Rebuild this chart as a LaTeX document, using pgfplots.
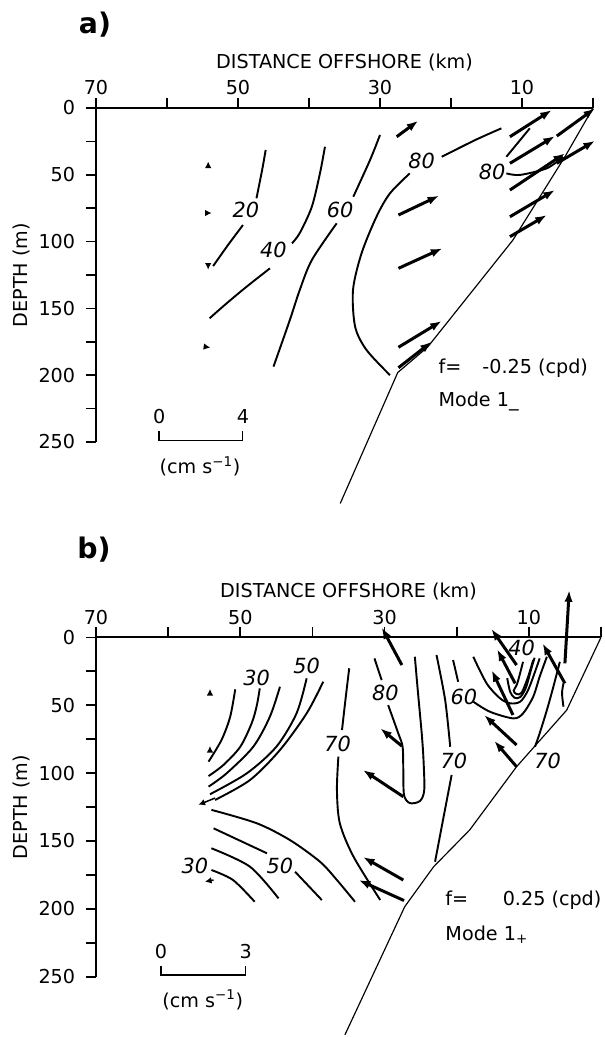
\documentclass[border=0pt]{standalone}
\usepackage{pgfplots}
\pgfplotsset{compat=1.18}
\usepackage{fontspec}
\setmainfont{DejaVu Sans}
\usetikzlibrary{arrows.meta}

\pgfplotsset{
  sect/.style={
    scale only axis, xmin=0,xmax=70,ymin=0,ymax=250,
    x dir=reverse, y dir=reverse,
    axis x line*=top, axis y line*=left,
    axis line style={-, line width=1.2pt},
    tick align=outside, major tick length=6pt,
    tick style={black, line width=1pt},
    xtick={0,10,...,70}, xticklabels={,10,,30,,50,,70},
    ytick={0,25,...,250}, yticklabels={0,,50,,100,,150,,200,,250},
    xlabel={DISTANCE OFFSHORE (km)}, ylabel={DEPTH (m)},
    tick label style={font=\fontsize{11.5}{13}\selectfont},
    yticklabel style={xshift=-3pt},
    xticklabel style={yshift=-1.8pt},
    ylabel shift=-2pt,
    xlabel shift=-1.2pt,
    label style={font=\fontsize{11.5}{13}\selectfont},
    clip=false,
  },
  cont/.style={black, line width=1.15pt, smooth, no markers},
  vec/.style={black, line width=1.8pt, -{Latex[length=7pt,width=5pt]}, no markers, quiver={u=\thisrow{u},v=\thisrow{v}}},
  svec/.style={black, line width=0.9pt, -{Latex[length=4pt,width=4pt]}, no markers, quiver={u=\thisrow{u},v=\thisrow{v}}},
}
\tikzset{
  clab/.style={font=\fontsize{12.5}{14}\selectfont\itshape, inner sep=0pt},
  txt/.style={font=\fontsize{11.5}{13}\selectfont, inner sep=0pt},
}

\begin{document}
\begin{tikzpicture}[font=\fontsize{11.5}{13}\selectfont]
\useasboundingbox (0,0) rectangle (363pt,-622.2pt);
\node[font=\fontsize{17}{19}\selectfont\bfseries] at (57pt,-15pt) {a)};
\begin{axis}[sect, at={(57.6pt,-64.8pt)}, anchor=north west, width=298.2pt, height=200.4pt]
% bottom slope
\addplot[black, line width=0.7pt] coordinates {(0,0) (3.9,36) (11.3,99) (23.3,179) (27.5,198) (35.6,296)};
% contours
\addplot[cont] coordinates {(46.1,31.4) (46.6,46.4) (47.4,67.6)};
\addplot[cont] coordinates {(49.3,87.6) (51.4,102.5) (53.5,118.3)};
\addplot[cont] coordinates {(37.75,29) (38.45,48.7) (39.6,73.9) (41.3,93.6) (42.4,101.3)};
\addplot[cont] coordinates {(45.5,120) (48.8,133.8) (51.6,146.2) (54.0,157.4)};
\addplot[cont] coordinates {(30,20.2) (31.4,38.9) (33.76,66.4)};
\addplot[cont] coordinates {(36.1,86.3) (39.6,113.8) (41.3,136.2) (42.7,158.7) (45.0,193.6)};
\addplot[cont] coordinates {(12.9,15.2) (16.6,24) (21.3,36.5)};
\addplot[cont] coordinates {(25.8,48.9) (28.6,63.9) (30.5,81.4) (32.6,108.8) (33.8,136.2) (33.5,163.7) (31.9,181.1) (28.6,199.9)};
\addplot[cont] coordinates {(12.2,48.9) (10.3,50.1) (6.5,45.1) (4.2,36.5)};
\addplot[cont] coordinates {(12.2,36.5) (8.9,15.2)};
\node[clab] at (axis cs:48.9,76.0) {20};
\node[clab] at (axis cs:45.0,105.9) {40};
\node[clab] at (axis cs:35.6,76.3) {60};
\node[clab] at (axis cs:24.15,39.7) {80};
\node[clab] at (axis cs:14.2,47.5) {80};
% velocity vectors
\addplot[vec] table[row sep=\\] {
x y u v \\
27.65 21.5 -3.05 -12.0 \\
11.7 21.5 -5.9 -20.0 \\
11.7 41.4 -6.35 -20.4 \\
5.1 21.0 -5.4 -20.8 \\
11.7 61.4 -7.76 -27.5 \\
5.1 41.4 -5.4 -16.9 \\
11.7 81.4 -6.35 -20.0 \\
11.7 96.3 -5.2 -16.2 \\
27.4 80.1 -5.75 -14.5 \\
27.4 120 -6.2 -15 \\
27.4 179.1 -6.1 -19.7 \\
27.4 194.4 -4.7 -19.5 \\
};
\addplot[svec] table[row sep=\\] {
x y u v \\
54.2 43 0 -3 \\
54.6 78.6 -0.9 0 \\
54.2 118 0 3 \\
54.8 178.6 -0.9 0.7 \\
};
% scale bar
\addplot[black, line width=0.9pt] coordinates {(61.1,242) (61.1,249) (49.4,249) (49.4,242)};
\node[txt] at (axis cs:61.1,231) {0};
\node[txt] at (axis cs:49.3,231) {4};
\node[txt] at (axis cs:55.35,268.5) {(cm s\textsuperscript{−1})};
\node[txt, anchor=west] at (axis cs:21.8,194.6) {f=\hspace{1.1em}-0.25 (cpd)};
\node[txt, anchor=west] at (axis cs:21.8,220) {Mode 1\_};
\end{axis}

\node[font=\fontsize{17}{19}\selectfont\bfseries] at (56.4pt,-330pt) {b)};
\begin{axis}[sect, at={(57.6pt,-382.4pt)}, anchor=north west, width=303pt, height=203.6pt]
\addplot[black, line width=0.7pt] coordinates {(0,0) (4.75,53.6) (11.7,95.3) (18.2,141.9) (23.2,169) (27.2,198.4) (35.5,292.9)};
% upper-left family
\addplot[cont] coordinates {(50.7,38.3) (51.4,58.5) (52.6,75.6) (54.4,91.6)};
\addplot[cont] coordinates {(47.3,37.6) (47.7,50) (48.4,63) (50.0,80.6) (52.35,94.1) (54.4,102.2)};
\addplot[cont] coordinates {(44.5,36.4) (45.9,58.5) (48.2,80.6) (51.9,100.2) (54.4,110.0)};
\addplot[cont] coordinates {(40.8,30.2) (42.2,56.0) (45.0,80.6) (49.1,100.2) (54.2,115.6)};
\addplot[cont] coordinates {(38.5,32.7) (40.8,56.0) (44.5,83.0) (48.65,105.1) (53.5,119.8)};
% lower-left family
\addplot[cont] coordinates {(54.0,127.1) (47.7,137.0) (43.1,149.4) (38.95,165.3) (36.6,178.8) (34.1,194.8)};
\addplot[cont] coordinates {(53.7,140.7) (46.3,159.1)};
\addplot[cont] coordinates {(42.4,172.7) (38.7,193.5)};
\addplot[cont] coordinates {(54.0,155.4) (48.65,169.0) (44.7,192.3)};
\addplot[cont] coordinates {(54.0,171.4) (51.0,178.8) (48.0,194.8)};
% 70 left
\addplot[cont] coordinates {(34.9,22.8) (35.4,45) (35.9,68.3)};
\addplot[cont] coordinates {(36.4,87.9) (36.6,112.5) (36.2,137.0) (34.3,161.6) (30.6,193.5)};
% 80 loop
\addplot[cont] coordinates {(31.4,15.5) (30.4,31.5)};
\addplot[cont] coordinates {(29.5,49.9) (28.1,70.7) (27.5,80.6) (27.4,97.7) (27.3,116.2) (26.5,122.1) (25.1,120.6) (24.5,112.5) (24.6,90.4) (24.85,70.7) (25.4,38.8) (25.8,14.3)};
% 70 middle
\addplot[cont] coordinates {(22.8,13.0) (21.6,46.2) (20.9,80.6)};
\addplot[cont] coordinates {(20.7,101.4) (21.9,134.6) (23.0,165.3)};
% 60
\addplot[cont] coordinates {(20.5,16.7) (19.8,32.7)};
\addplot[cont] coordinates {(17.7,47.4) (15.4,54.8) (12.15,59.7) (10.8,56.0) (9.4,43.8) (8.5,29.0) (7.5,14.3)};
% inner U's
\addplot[cont] coordinates {(17.7,14.3) (15.85,33.9) (14.0,44.9) (12.6,48.6) (11.2,47.4) (10.1,38.8) (8.9,21.7) (8.5,15.5)};
\addplot[cont] coordinates {(13.0,30) (12.6,40) (12.0,44.5) (11.2,44) (10.4,37) (9.6,22) (9.2,15)};
\addplot[cont] coordinates {(10.8,18.0) (11.6,33.9) (12.1,39.3) (11.7,41.8) (11.0,40.8) (10.1,29.0) (9.4,16.7)};
% right 70
\addplot[cont] coordinates {(5.7,18.0) (6.6,36.4) (7.5,53.6) (8.5,70.7) (9.15,80.6)};
\addplot[cont] coordinates {(5.2,33.9) (5.4,41.2) (5.2,51.1)};
% labels
\node[clab] at (axis cs:47.75,29.6) {30};
\node[clab] at (axis cs:40.8,20.9) {50};
\node[clab] at (axis cs:29.9,41.2) {80};
\node[clab] at (axis cs:36.5,78.2) {70};
\node[clab] at (axis cs:20.4,91.1) {70};
\node[clab] at (axis cs:7.4,91.1) {70};
\node[clab] at (axis cs:19.0,43.8) {60};
\node[clab] at (axis cs:11.0,8.1) {40};
\node[clab] at (axis cs:56.3,168.2) {30};
\node[clab] at (axis cs:44.5,168.2) {50};
% vectors
\addplot[vec] table[row sep=\\] {
x y u v \\
27.6 20.4 2.8 -27.8 \\
5.0 19.2 -0.6 -54.0 \\
11.7 20.4 3.5 -26.7 \\
11.9 33.9 2.5 -25.1 \\
12.2 57.2 2.95 -33.1 \\
5.0 33.9 3.1 -29.5 \\
11.7 79.3 4.5 -22.1 \\
11.7 95.3 3.1 -19.1 \\
27.6 80.1 3.0 -13.1 \\
27.4 117.4 5.6 -19.7 \\
27.4 178.8 5.6 -17.0 \\
27.3 193.9 6.3 -15.1 \\
};
\addplot[svec] table[row sep=\\] {
x y u v \\
53.5 118.4 2.3 5.0 \\
53.7 178.8 1.2 1.2 \\
54.2 41 0 -3 \\
54.2 83 0 -3 \\
};
% scale bar
\addplot[black, line width=0.9pt] coordinates {(61.0,242) (61.0,248.7) (49.25,248.7) (49.25,242)};
\node[txt] at (axis cs:61.0,231.6) {0};
\node[txt] at (axis cs:49.25,231.6) {3};
\node[txt] at (axis cs:55.2,267.1) {(cm s\textsuperscript{−1})};
\node[txt, anchor=west] at (axis cs:21.6,193.5) {f=\hspace{1.8em}0.25 (cpd)};
\node[txt, anchor=west] at (axis cs:21.6,219.2) {Mode 1\textsubscript{+}};
\end{axis}
\end{tikzpicture}
\end{document}
